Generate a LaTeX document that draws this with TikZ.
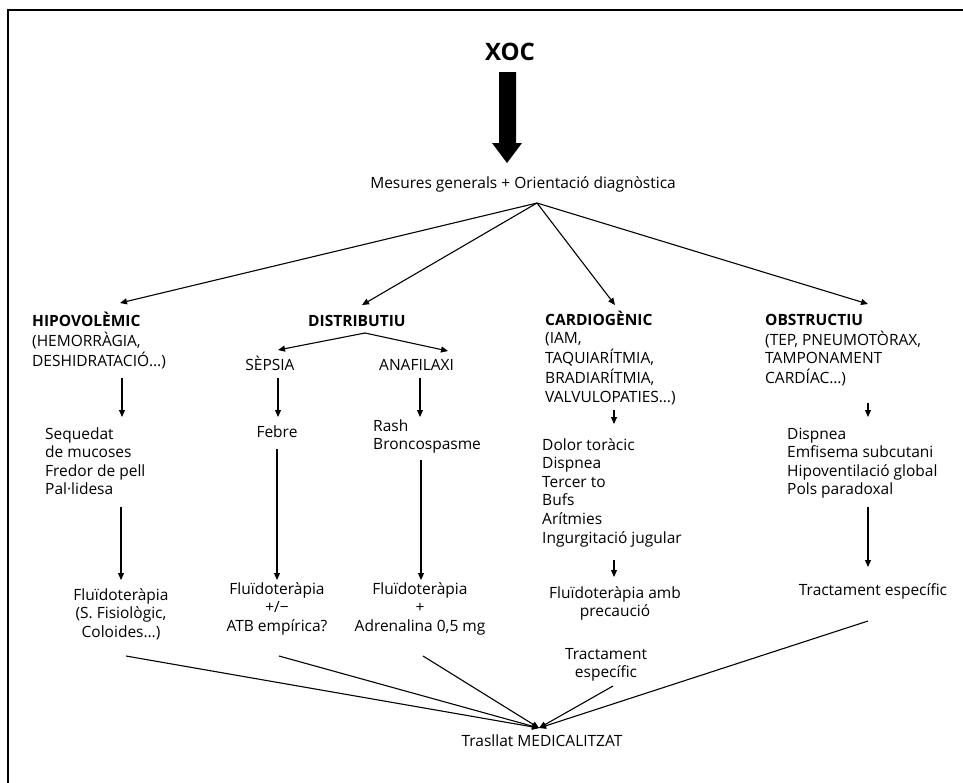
\documentclass[tikz,border=0pt]{standalone}
\usepackage{fontspec}
\setmainfont{Open Sans}
\usetikzlibrary{arrows.meta,calc}
% multi-line text block whose baseline is the first row
\newcommand{\txtrows}[2]{\begin{tabular}[t]{@{}#1@{}}#2\end{tabular}}
\begin{document}
\begin{tikzpicture}[x=1pt,y=-1pt,
  lbl/.style={inner sep=0pt,font=\fontsize{15.5}{18.6}\selectfont},
  arr/.style={-{Triangle[length=7pt,width=6pt]},line width=1.1pt},
  link/.style={line width=1.1pt}]
\useasboundingbox (0,0) rectangle (963,782);

% frame
\draw[line width=2.2pt] (8,795) -- (8,10) -- (975,10);

% title and main arrow
\node[inner sep=0pt,font=\bfseries\fontsize{24}{28}\selectfont,anchor=base] (xoc) at (510,60) {XOC};
\fill (499,72) -- (516,72) -- (516,143) -- (522,143) -- (507,163) -- (492,143) -- (499,143) -- cycle;

\node[lbl,anchor=base] (mes) at (523,188) {Mesures generals + Orientació diagnòstica};
\coordinate (fan) at (537,203);

% shock types
\node[lbl,anchor=base west] (hipo) at (32,326) {\txtrows{l}{\textbf{HIPOVOLÈMIC}\\(HEMORRÀGIA,\\DESHIDRATACIÓ…)}};
\node[lbl,anchor=base west] (dist) at (308,326) {\textbf{DISTRIBUTIU}};
\node[lbl,anchor=base west] (card) at (545,325) {\txtrows{l}{\textbf{CARDIOGÈNIC}\\(IAM,\\TAQUIARÍTMIA,\\BRADIARÍTMIA,\\VALVULOPATIES…)}};
\node[lbl,anchor=base west] (obs) at (765,325) {\txtrows{l}{\textbf{OBSTRUCTIU}\\(TEP, PNEUMOTÒRAX,\\TAMPONAMENT\\CARDÍAC…)}};

\coordinate (hipoIn) at (120,303);
\coordinate (distIn) at (362,305);
\coordinate (cardIn) at (615,305);
\coordinate (obsIn) at (868,304);
\draw[arr] (fan) -- (hipoIn);
\draw[arr] (fan) -- (distIn);
\draw[arr] (fan) -- (cardIn);
\draw[arr] (fan) -- (obsIn);

% distributive subtypes
\coordinate (split) at (365,333);
\node[lbl,anchor=base] (seps) at (270,370) {SÈPSIA};
\node[lbl,anchor=base west] (anaf) at (379,370) {ANAFILAXI};
\coordinate (sepsIn) at (278,350);
\coordinate (anafIn) at (448,351);
\draw[arr] (split) -- (sepsIn);
\draw[arr] (split) -- (anafIn);

% signs
\node[lbl,anchor=base west] (seq) at (45,439) {\txtrows{l}{Sequedat\\de mucoses\\Fredor de pell\\Pal·lidesa}};
\node[lbl,anchor=base] (febre) at (277,437) {Febre};
\node[lbl,anchor=base west] (rash) at (373,431) {\txtrows{l}{Rash\\Broncospasme}};
\node[lbl,anchor=base west] (dolor) at (542,450) {\txtrows{l}{Dolor toràcic\\Dispnea\\Tercer to\\Bufs\\Arítmies\\Ingurgitació jugular}};
\node[lbl,anchor=base west] (disp) at (787,439) {\txtrows{l}{Dispnea\\Emfisema subcutani\\Hipoventilació global\\Pols paradoxal}};

\coordinate (a1) at (122,378); \coordinate (a1e) at (122,417);
\coordinate (a2) at (278,378); \coordinate (a2e) at (278,417);
\coordinate (a3) at (420,378); \coordinate (a3e) at (420,417);
\coordinate (a4) at (614,410); \coordinate (a4e) at (614,424);
\coordinate (a5) at (868,403); \coordinate (a5e) at (868,417);
\draw[arr] (a1) -- (a1e);
\draw[arr] (a2) -- (a2e);
\draw[arr] (a3) -- (a3e);
\draw[arr] (a4) -- (a4e);
\draw[arr] (a5) -- (a5e);

% treatments
\node[lbl,anchor=base] (t1) at (121,600) {\txtrows{c}{Fluïdoteràpia\\(S. Fisiològic,\\Coloides…)}};
\node[lbl,anchor=base] (t2) at (277,594) {\txtrows{c}{Fluïdoteràpia\\+/−\\ATB empírica?}};
\node[lbl,anchor=base] (t3) at (420,594) {\txtrows{c}{Fluïdoteràpia\\+\\Adrenalina 0,5 mg}};
\node[lbl,anchor=base] (t4) at (615,598) {\txtrows{c}{Fluïdoteràpia amb\\precaució}};
\node[lbl,anchor=base] (t4b) at (606,659) {\txtrows{c}{Tractament\\específic}};
\node[lbl,anchor=base] (t5) at (873,595) {Tractament específic};

\coordinate (b1) at (121,507); \coordinate (b1e) at (121,580);
\coordinate (b2) at (277,449); \coordinate (b2e) at (277,580);
\coordinate (b3) at (421,460); \coordinate (b3e) at (421,580);
\coordinate (b4) at (614,560); \coordinate (b4e) at (614,577);
\coordinate (b5) at (868,507); \coordinate (b5e) at (868,567);
\draw[arr] (b1) -- (b1e);
\draw[arr] (b2) -- (b2e);
\draw[arr] (b3) -- (b3e);
\draw[arr] (b4) -- (b4e);
\draw[arr] (b5) -- (b5e);

% transfer
\node[lbl,anchor=base] (tras) at (542,746) {Trasllat MEDICALITZAT};
\coordinate (conv) at (539,728);
\coordinate (c1) at (126,656);
\coordinate (c2) at (279,656);
\coordinate (c3) at (423,656);
\coordinate (c4) at (613,686);
\coordinate (c5) at (868,621);
\draw[arr] (c1) -- (conv);
\draw[arr] (c2) -- (conv);
\draw[arr] (c3) -- (conv);
\draw[arr] (c4) -- (conv);
\draw[arr] (c5) -- (conv);
\end{tikzpicture}
\end{document}
